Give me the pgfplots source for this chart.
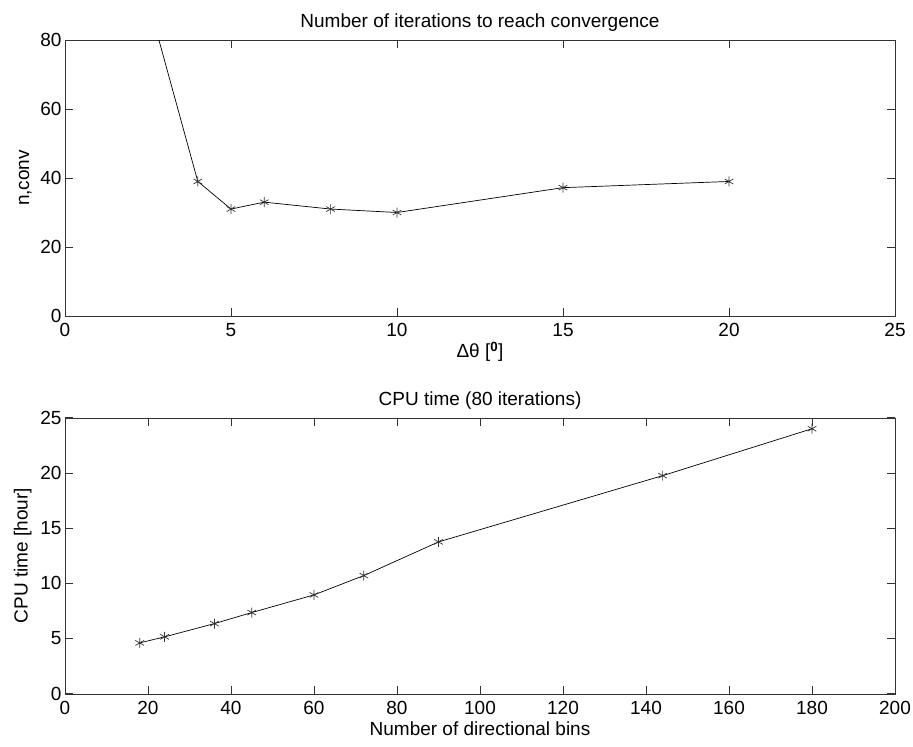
\documentclass[border=0pt]{standalone}
\usepackage{pgfplots}
\pgfplotsset{compat=1.18}
\usepackage{fontspec}
\setmainfont{Liberation Sans}
\begin{document}
\begin{tikzpicture}[font=\fontsize{19}{22}\selectfont]
\path[use as bounding box] (-65pt,-431pt) rectangle (848pt,316pt);
\pgfplotsset{every axis/.append style={
  scale only axis, width=830pt, height=276pt,
  axis line style={black!80}, tick style={black!80, line width=0.6pt},
  tick align=inside, major tick length=8pt,
  /pgf/number format/assume math mode=true,
  tick label style={font=\fontsize{19}{22}\selectfont},
  xticklabel style={yshift=-4pt},
  label style={font=\fontsize{19}{22}\selectfont},
  title style={font=\fontsize{19}{22}\selectfont, yshift=-1pt},
  clip=true,
}}
\begin{axis}[at={(0pt,0pt)}, anchor=south west,
  xmin=0, xmax=25, ymin=0, ymax=80,
  xtick={0,5,10,15,20,25}, ytick={0,20,40,60,80},
  title={Number of iterations to reach convergence},
  xlabel={Δθ [\textsuperscript{\textbf{0}}]},
  ylabel={n,conv},
  ylabel style={yshift=2pt},
  xlabel style={yshift=2pt},
]
\addplot[black, line width=0.7pt, mark=asterisk, mark size=5pt, mark options={black!80, line width=0.7pt}]
coordinates {(2,109) (4,39) (5,31) (6,33) (8,31) (10,30) (15,37.2) (20,39)};
\end{axis}
\begin{axis}[at={(0pt,-101.7pt)}, anchor=north west,
  xmin=0, xmax=200, ymin=0, ymax=25,
  xtick={0,20,...,200}, ytick={0,5,...,25},
  title={CPU time (80 iterations)},
  xlabel={Number of directional bins},
  ylabel={CPU time [hour]},
  ylabel style={yshift=2pt},
]
\addplot[black, line width=0.7pt, mark=asterisk, mark size=5pt, mark options={black!80, line width=0.7pt}]
coordinates {(18,4.6) (24,5.15) (36,6.35) (45,7.35) (60,8.95) (72,10.7) (90,13.75) (144,19.75) (180,24)};
\end{axis}
\end{tikzpicture}
\end{document}
